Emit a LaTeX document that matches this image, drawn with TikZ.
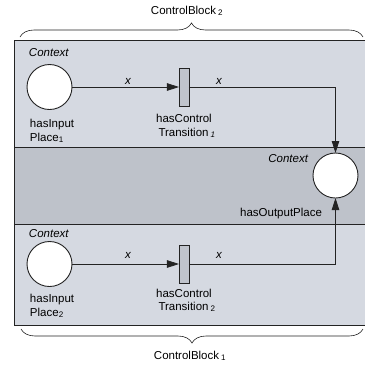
\documentclass[tikz,border=0pt]{standalone}
\usepackage{fontspec}
\setmainfont{Liberation Sans}
\usetikzlibrary{arrows.meta,decorations.pathreplacing}
\definecolor{lightreg}{RGB}{213,217,225}
\definecolor{darkreg}{RGB}{190,194,202}
\definecolor{transfill}{RGB}{192,196,204}
\definecolor{linec}{RGB}{35,35,35}
\begin{document}
\begin{tikzpicture}[x=1pt,y=-1pt,
  font=\fontsize{11.5}{13}\selectfont,
  every node/.style={inner sep=0pt, outer sep=0pt},
  place/.style={circle, draw=linec, fill=white, line width=0.9pt, minimum size=45pt},
  trans/.style={rectangle, draw=linec, fill=transfill, line width=0.8pt, minimum width=10pt, minimum height=38pt},
  arr/.style={draw=linec, line width=0.8pt, -{Triangle[length=12pt,width=7.5pt]}},
  bline/.style={draw=linec, line width=0.8pt},
  lbl/.style={anchor=base},
  bracestyle/.style={draw=linec, line width=0.6pt, decorate}
]
\useasboundingbox (0,0) rectangle (365,368);
\clip (0,0) rectangle (365,368);
% regions
\fill[lightreg] (14,40) rectangle (372,147);
\fill[darkreg] (14,147) rectangle (372,224);
\fill[lightreg] (14,224) rectangle (372,325);
\draw[bline] (372,40) -- (14,40) -- (14,325) -- (372,325);
\draw[bline] (14,147) -- (372,147);
\draw[bline] (14,224) -- (372,224);
% braces
\coordinate (b2l) at (20,37);
\coordinate (b2r) at (363,37);
\coordinate (b1r) at (363,329);
\coordinate (b1l) at (21,329);
\draw[bracestyle, decoration={brace, amplitude=14pt}] (b2l) -- (b2r);
\draw[bracestyle, decoration={brace, amplitude=14pt}] (b1r) -- (b1l);
\node[lbl] (cb2) at (187,14) {ControlBlock\,\textsubscript{2}};
\node[lbl] (cb1) at (190,359) {ControlBlock\,\textsubscript{1}};
% nodes
\node[place] (p1) at (49.5,87) {};
\node[trans] (t1) at (184,87) {};
\node[place] (o) at (335.5,175.5) {};
\node[place] (p2) at (49.5,264) {};
\node[trans] (t2) at (184,264) {};
% arcs
\draw[arr] (p1) -- (t1);
\draw[arr] (t1.east) -| (o.north);
\draw[arr] (p2) -- (t2);
\draw[arr] (t2.east) -| (o.south);
% labels top
\node[lbl, anchor=base west] (ctx1) at (29,56) {\itshape Context};
\node[lbl] (x1) at (128,84) {\itshape x};
\node[lbl] (x2) at (219,84) {\itshape x};
\node[lbl] (hc1) at (184,122) {hasControl};
\node[lbl] (tr1) at (187,136) {Transition\,\textsubscript{\itshape 1}};
\node[lbl, anchor=base west] (hi1) at (30,127) {hasInput};
\node[lbl, anchor=base west] (pl1) at (30,141) {Place\textsubscript{1}};
% labels middle
\node[lbl, anchor=base east] (ctx2) at (308,162) {\itshape Context};
\node[lbl, anchor=base east] (hop) at (322,216) {hasOutputPlace};
% labels bottom
\node[lbl, anchor=base west] (ctx3) at (29,237) {\itshape Context};
\node[lbl] (x3) at (128,258) {\itshape x};
\node[lbl] (x4) at (219,258) {\itshape x};
\node[lbl] (hc2) at (184,297) {hasControl};
\node[lbl] (tr2) at (187,310) {Transition\,\textsubscript{2}};
\node[lbl, anchor=base west] (hi2) at (30,302) {hasInput};
\node[lbl, anchor=base west] (pl2) at (30,316) {Place\textsubscript{2}};
\end{tikzpicture}
\end{document}
